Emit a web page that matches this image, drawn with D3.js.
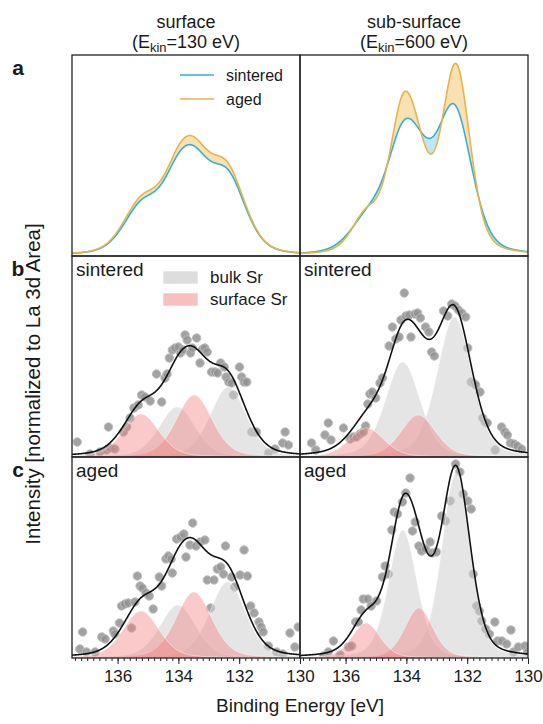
<!DOCTYPE html>
<html>
<head>
<meta charset="utf-8">
<script src="https://cdn.jsdelivr.net/npm/d3@7"></script>
<style>
body { margin: 0; background: #fff; }
text { font-family: "Liberation Sans", Arial, Helvetica, sans-serif; fill: #1a1a1a; }
</style>
</head>
<body>
<svg id="chart" width="543" height="724"></svg>
<script>
// x ticks (binding energy, eV)
var energyTicks = [136, 134, 132, 130];
var columnTitles = ["surface", "sub-surface"];
var kineticEnergies = ["130 eV", "600 eV"];
var rowLetters = ["a", "b", "c"];

// fitted components: [centre eV, height]
var surfSinteredBulk = [[132.36, 0.70], [134.04, 0.50]];
var surfSinteredSurface = [[133.48, 0.62], [135.23, 0.43]];
var surfAgedBulk = [[132.38, 0.76], [134.02, 0.53]];
var surfAgedSurface = [[133.49, 0.66], [135.23, 0.47]];
var subSinteredBulk = [[132.42, 1.40], [134.12, 0.95]];
var subSinteredSurface = [[133.61, 0.42], [135.31, 0.29]];
var subAgedBulk = [[132.37, 1.85], [134.12, 1.28]];
var subAgedSurface = [[133.59, 0.50], [135.33, 0.35]];
// fwhm for each fit (surf sintered, surf aged, sub sintered, sub aged)
var fitFwhm = [1.4, 1.4, 1.35, 1.1];

// measured points [eV, intensity]
var surfSinteredPts = [[137.33,0.15],[136.91,0.03],[136.58,0.05],[136.36,0.07],[136.25,0.09],[136.09,0.08],[136.30,0.30],
  [135.81,0.25],[135.70,0.30],[135.59,0.39],[135.46,0.49],[135.32,0.52],[135.21,0.62],[135.10,0.60],[134.93,0.56],
  [134.72,0.83],[134.55,0.55],[134.44,0.79],[134.37,0.83],[134.30,0.99],[134.20,1.07],[134.11,1.09],[134.00,1.10],
  [133.93,1.04],[133.86,1.07],[133.78,1.22],[133.71,1.17],[133.60,1.04],[133.54,1.09],[133.40,1.19],[133.29,0.94],
  [133.20,1.08],[133.13,1.09],[133.05,1.05],[132.91,0.85],[132.80,0.85],[132.71,0.84],[132.61,0.94],[132.49,0.90],
  [132.43,0.80],[132.34,0.75],[132.25,0.74],[132.19,0.62],[131.99,0.90],[131.92,0.80],[131.84,0.75],[131.75,0.75],
  [131.59,0.25],[131.51,0.25],[131.43,0.25],[131.04,0.04],[130.82,0.08],[130.57,0.14],[130.49,0.25],[130.38,0.12]];
var surfAgedPts = [[137.15,0.26],[137.24,0.09],[137.02,0.06],[136.74,0.06],[136.52,0.21],[136.41,0.19],[136.14,0.27],
  [136.09,0.24],[135.94,0.35],[135.87,0.52],[135.76,0.54],[135.65,0.55],[135.54,0.30],[135.43,0.56],[135.35,0.82],
  [135.26,0.72],[135.19,0.70],[135.07,0.65],[134.96,0.62],[134.83,0.49],[134.63,0.81],[134.55,0.72],[134.41,0.99],
  [134.33,1.02],[134.24,0.99],[134.20,0.85],[134.06,1.19],[133.93,1.21],[133.82,1.24],[133.75,1.01],[133.62,1.13],
  [133.53,1.35],[133.42,1.12],[133.29,1.16],[133.13,1.18],[133.05,0.78],[132.94,0.50],[132.83,0.78],[132.72,0.89],
  [132.61,0.91],[132.52,0.84],[132.45,1.12],[132.25,0.81],[132.15,0.71],[131.97,0.83],[131.84,1.08],[131.73,0.82],
  [131.62,0.52],[131.51,0.45],[131.35,0.36],[131.28,0.31],[131.21,0.26],[131.04,0.12],[130.77,0.06],[130.57,0.04],
  [130.33,0.25],[130.17,0.11],[130.06,0.31]];
var subSinteredPts = [[137.12,0.14],[136.98,0.07],[136.68,0.22],[136.57,0.34],[136.48,0.17],[136.07,0.29],[135.85,0.18],
  [135.75,0.20],[135.64,0.20],[135.53,0.23],[135.42,0.25],[135.34,0.31],[135.27,0.53],[135.20,0.63],[135.12,0.65],
  [135.01,0.59],[134.87,0.74],[134.79,0.79],[134.57,1.11],[134.46,1.30],[134.35,1.18],[134.24,1.20],[134.18,1.37],
  [134.07,1.64],[134.02,1.41],[133.91,1.42],[133.85,1.20],[133.72,1.43],[133.63,1.44],[133.54,1.39],[133.37,1.30],
  [133.26,1.25],[133.17,1.05],[133.08,1.01],[132.78,1.46],[132.64,1.41],[132.51,1.53],[132.40,1.51],[132.29,1.47],
  [132.18,1.44],[132.05,1.40],[131.98,1.09],[131.87,0.75],[131.79,0.74],[131.72,0.72],[131.58,0.65],[131.49,0.39],
  [131.41,0.35],[131.34,0.34],[131.08,0.07],[130.87,0.30],[130.76,0.25],[130.68,0.22],[130.58,0.14],[130.46,0.13],
  [130.35,0.11],[130.21,0.08]];
var subAgedPts = [[136.73,0.02],[136.57,0.06],[136.40,0.17],[136.18,0.03],[135.91,0.11],[135.80,0.12],[135.67,0.36],
  [135.58,0.36],[135.49,0.48],[135.42,0.59],[135.27,0.59],[135.16,0.52],[134.98,0.57],[134.79,0.81],[134.70,0.92],
  [134.59,0.84],[134.48,1.28],[134.40,1.46],[134.29,1.44],[134.13,1.56],[134.02,1.65],[133.88,1.80],[133.80,1.27],
  [133.71,1.36],[133.59,1.12],[133.50,1.07],[133.37,1.09],[133.22,1.16],[133.15,1.05],[133.01,1.06],[132.84,1.42],
  [132.71,1.37],[132.56,1.57],[132.38,1.94],[132.24,1.86],[132.13,1.64],[131.98,1.57],[131.87,1.49],[131.80,0.84],
  [131.69,0.52],[131.60,0.47],[131.52,0.37],[131.39,0.29],[131.27,0.24],[131.09,0.36],[131.00,0.17],[130.86,0.17],
  [130.70,0.14],[130.56,0.28],[130.48,0.06],[130.32,0.11],[130.10,0.12],[130.01,0.06]];

var COLS = [[72, 300], [300, 528]];
var ROWS = [[55, 256], [256, 457], [457, 658]];
var BLUE = "#33afd8", ORANGE = "#e7b44a";

var svg = d3.select("#chart");

function xScale(c) { return d3.scaleLinear().domain([137.5, 130]).range(COLS[c]); }
function yScale(r) { return d3.scaleLinear().domain([0, 2.01]).range([ROWS[r][1], ROWS[r][0]]); }

// pseudo-voigt peak shape
function peak(E, p, w) {
  var t = (E - p[0]) / w;
  return p[1] * (0.7 * Math.exp(-4 * Math.LN2 * t * t) + 0.3 / (1 + 4 * t * t));
}
var grid = d3.range(0, 751).map(function(i) { return 137.5 - i * 0.01; });

var fits = [
  { col: 0, row: 1, bulk: surfSinteredBulk, surf: surfSinteredSurface, w: fitFwhm[0], pts: surfSinteredPts, name: "sintered" },
  { col: 0, row: 2, bulk: surfAgedBulk, surf: surfAgedSurface, w: fitFwhm[1], pts: surfAgedPts, name: "aged" },
  { col: 1, row: 1, bulk: subSinteredBulk, surf: subSinteredSurface, w: fitFwhm[2], pts: subSinteredPts, name: "sintered" },
  { col: 1, row: 2, bulk: subAgedBulk, surf: subAgedSurface, w: fitFwhm[3], pts: subAgedPts, name: "aged" }
];
fits.forEach(function(f) {
  var comps = f.bulk.concat(f.surf);
  f.env = grid.map(function(E) {
    return [E, d3.sum(comps, function(p) { return peak(E, p, f.w); })];
  });
});

// clip per panel
var defs = svg.append("defs");
[0, 1].forEach(function(c) {
  [0, 1, 2].forEach(function(r) {
    defs.append("clipPath").attr("id", "clip" + c + r)
      .append("rect").attr("x", COLS[c][0]).attr("y", ROWS[r][0])
      .attr("width", COLS[c][1] - COLS[c][0]).attr("height", ROWS[r][1] - ROWS[r][0]);
  });
});

// row a: envelopes of sintered vs aged
[0, 1].forEach(function(c) {
  var x = xScale(c), y = yScale(0);
  var s = fits[c * 2].env, a = fits[c * 2 + 1].env;
  var both = s.map(function(d, i) { return [d[0], d[1], a[i][1]]; });
  var g = svg.append("g").attr("clip-path", "url(#clip" + c + "0)");
  g.append("path").datum(both)
    .attr("d", d3.area().x(function(d) { return x(d[0]); })
      .y0(function(d) { return y(d[1]); })
      .y1(function(d) { return y(Math.max(d[1], d[2])); }))
    .attr("fill", "#f8d79b").attr("opacity", 0.75);
  g.append("path").datum(both)
    .attr("d", d3.area().x(function(d) { return x(d[0]); })
      .y0(function(d) { return y(d[2]); })
      .y1(function(d) { return y(Math.max(d[1], d[2])); }))
    .attr("fill", "#b5e2f2").attr("opacity", 0.85);
  var line = d3.line().x(function(d) { return x(d[0]); }).y(function(d) { return y(d[1]); });
  g.append("path").datum(s).attr("d", line).attr("fill", "none").attr("stroke", BLUE).attr("stroke-width", 1.6);
  g.append("path").datum(a).attr("d", line).attr("fill", "none").attr("stroke", ORANGE).attr("stroke-width", 1.6);
});

// rows b, c: fits
fits.forEach(function(f) {
  var x = xScale(f.col), y = yScale(f.row);
  var g = svg.append("g").attr("clip-path", "url(#clip" + f.col + f.row + ")");
  g.selectAll(".pt").data(f.pts).enter().append("circle")
    .attr("cx", function(d) { return x(d[0]); })
    .attr("cy", function(d) { return y(d[1]); })
    .attr("r", 4.2)
    .attr("fill", "#929292").attr("fill-opacity", 0.85)
    .attr("stroke", "#bdbdbd").attr("stroke-width", 1);
  function comp(p, fill, op) {
    g.append("path").datum(grid)
      .attr("d", d3.area().x(function(E) { return x(E); })
        .y0(y(0)).y1(function(E) { return y(peak(E, p, f.w)); }))
      .attr("fill", fill).attr("fill-opacity", op)
      .attr("stroke", "#ffffff").attr("stroke-opacity", 0.5).attr("stroke-width", 1);
  }
  f.bulk.forEach(function(p) { comp(p, "#cfcfcf", 0.55); });
  f.surf.forEach(function(p) { comp(p, "#f27f7f", 0.42); });
  g.append("path").datum(f.env)
    .attr("d", d3.line().x(function(d) { return x(d[0]); }).y(function(d) { return y(d[1]); }))
    .attr("fill", "none").attr("stroke", "#111").attr("stroke-width", 1.6);
  svg.append("text").attr("x", COLS[f.col][0] + 4).attr("y", ROWS[f.row][0] + 20)
    .attr("font-size", 19).text(f.name);
});

// frames
[0, 1].forEach(function(c) {
  [0, 1, 2].forEach(function(r) {
    svg.append("rect").attr("x", COLS[c][0]).attr("y", ROWS[r][0])
      .attr("width", COLS[c][1] - COLS[c][0]).attr("height", ROWS[r][1] - ROWS[r][0])
      .attr("fill", "none").attr("stroke", "#222").attr("stroke-width", 1.3);
  });
});

// bottom axes
var minorTicks = d3.range(0, 38).map(function(i) { return +(130 + i * 0.2).toFixed(1); });
[0, 1].forEach(function(c) {
  var x = xScale(c);
  var gm = svg.append("g").attr("transform", "translate(0," + ROWS[2][1] + ")")
    .call(d3.axisBottom(x).tickValues(minorTicks).tickSize(3).tickFormat(""));
  gm.select(".domain").remove();
  var ga = svg.append("g").attr("transform", "translate(0," + ROWS[2][1] + ")")
    .call(d3.axisBottom(x).tickValues(energyTicks).tickSize(6).tickPadding(6));
  ga.select(".domain").remove();
  ga.selectAll("text").attr("font-size", 17).attr("fill", "#1a1a1a")
    .style("font-family", '"Liberation Sans", Arial, sans-serif');
  svg.selectAll(".tick line").attr("stroke", "#222").attr("stroke-width", 1);
});

// column titles
[0, 1].forEach(function(c) {
  var cx = (COLS[c][0] + COLS[c][1]) / 2;
  svg.append("text").attr("x", cx).attr("y", 28).attr("text-anchor", "middle")
    .attr("font-size", 18).text(columnTitles[c]);
  var t = svg.append("text").attr("x", cx).attr("y", 48).attr("text-anchor", "middle").attr("font-size", 18);
  t.append("tspan").text("(E");
  t.append("tspan").attr("font-size", 13).attr("dy", 4).text("kin");
  t.append("tspan").attr("dy", -4).text("=" + kineticEnergies[c] + ")");
});

// row letters
rowLetters.forEach(function(l, i) {
  svg.append("text").attr("x", 18).attr("y", ROWS[i][0] + 20).attr("text-anchor", "middle")
    .attr("font-size", 21).attr("font-weight", "bold").text(l);
});

// legend row a
[["sintered", BLUE, 75], ["aged", ORANGE, 99]].forEach(function(d) {
  svg.append("line").attr("x1", 180).attr("x2", 214).attr("y1", d[2]).attr("y2", d[2])
    .attr("stroke", d[1]).attr("stroke-width", 1.6);
  svg.append("text").attr("x", 226).attr("y", d[2] + 5.5).attr("font-size", 16).text(d[0]);
});

// legend row b
[["bulk Sr", "#cfcfcf", 0.7, 271], ["surface Sr", "#f27f7f", 0.5, 293]].forEach(function(d) {
  svg.append("rect").attr("x", 163).attr("y", d[3]).attr("width", 35).attr("height", 13)
    .attr("fill", d[1]).attr("fill-opacity", d[2]).attr("stroke", "#fff").attr("stroke-opacity", 0.6);
  svg.append("text").attr("x", 210).attr("y", d[3] + 12).attr("font-size", 17).text(d[0]);
});

// axis labels
svg.append("text").attr("x", 300).attr("y", 712).attr("text-anchor", "middle")
  .attr("font-size", 19).text("Binding Energy [eV]");
svg.append("text").attr("transform", "translate(40,384) rotate(-90)").attr("text-anchor", "middle")
  .attr("font-size", 20.5).text("Intensity [normalized to La 3d Area]");
</script>
</body>
</html>
